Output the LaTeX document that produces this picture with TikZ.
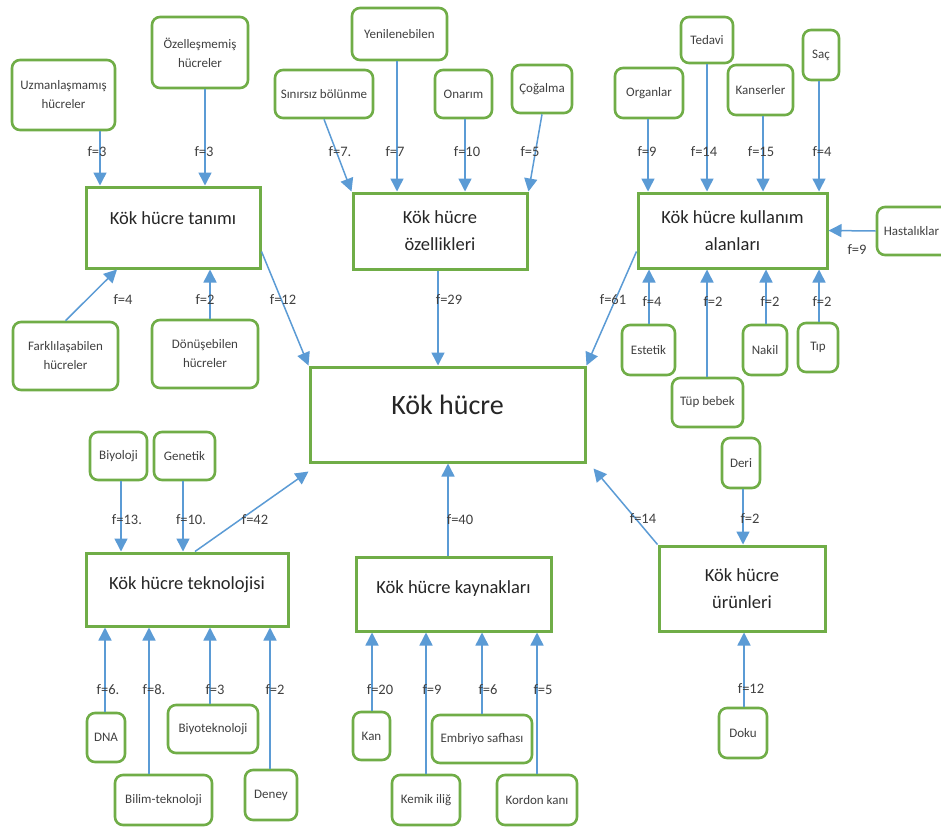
\documentclass[tikz,border=0pt]{standalone}
\usepackage{fontspec}
\setmainfont{Carlito}
\usepackage{tikz}
\usetikzlibrary{arrows.meta}
\usepackage{xcolor}
\definecolor{boxgreen}{RGB}{112,173,71}
\definecolor{linkblue}{RGB}{91,155,213}
\definecolor{txtgray}{RGB}{64,64,64}

\begin{document}
\begin{tikzpicture}[x=1pt,y=-1pt,
leaf/.style={draw=boxgreen,line width=2.6pt,rounded corners=8pt,fill=white,inner sep=1pt,align=center,text=txtgray,font=\fontsize{13}{19}\selectfont},
topic/.style={draw=boxgreen,line width=3pt,fill=white,inner sep=2pt,align=center,text=black!85,font=\fontsize{18.5}{27}\selectfont},
link/.style={draw=linkblue,line width=1.5pt,-{Triangle[width=13pt,length=13pt]}},
flab/.style={inner sep=0pt,text=txtgray,font=\fontsize{14.5}{16}\selectfont}]

\useasboundingbox[fill=white] (0,0) rectangle (941,827);
\clip (0,0) rectangle (941,827);

% center
\node[topic,minimum width=275,minimum height=95,text depth=20pt,font=\fontsize{28}{32}\selectfont] (merk) at (447.5,414.5) {Kök hücre};

% topics
\node[topic,minimum width=174,minimum height=81,text depth=18pt] (tanim) at (173,227.5) {Kök hücre tanımı};
\node[topic,minimum width=174,minimum height=76] (ozel) at (440,231) {Kök hücre\\özellikleri};
\node[topic,minimum width=189,minimum height=75] (kull) at (732.5,230.5) {Kök hücre kullanım\\alanları};
\node[topic,minimum width=202,minimum height=73,text depth=13pt] (tekn) at (187,589.5) {Kök hücre teknolojisi};
\node[topic,minimum width=195,minimum height=74,text depth=14pt] (kayn) at (453.5,594) {Kök hücre kaynakları};
\node[topic,minimum width=166,minimum height=85] (urun) at (742,588.5) {Kök hücre\\ürünleri};

% leaves, top left
\node[leaf,minimum width=103,minimum height=70] (uzm) at (63.5,95) {Uzmanlaşmamış\\hücreler};
\node[leaf,minimum width=96,minimum height=71] (oze) at (200,52.5) {Özelleşmemiş\\hücreler};
\node[leaf,minimum width=105,minimum height=68] (fark) at (65.5,356) {Farklılaşabilen\\hücreler};
\node[leaf,minimum width=106,minimum height=68] (donu) at (205,354) {Dönüşebilen\\hücreler};

% leaves, top middle
\node[leaf,minimum width=98,minimum height=48] (sinir) at (324,94) {Sınırsız bölünme};
\node[leaf,minimum width=95,minimum height=52] (yeni) at (399.5,34) {Yenilenebilen};
\node[leaf,minimum width=57,minimum height=48] (onar) at (463.5,94) {Onarım};
\node[leaf,minimum width=60,minimum height=48] (coga) at (542,89) {Çoğalma};

% leaves, top right
\node[leaf,minimum width=68,minimum height=50] (organ) at (649,93) {Organlar};
\node[leaf,minimum width=52,minimum height=46] (teda) at (707,40) {Tedavi};
\node[leaf,minimum width=65,minimum height=50] (kans) at (760.5,90) {Kanserler};
\node[leaf,minimum width=36,minimum height=50] (sac) at (821,55) {Saç};
\node[leaf,minimum width=83,minimum height=48] (hast) at (918.5,231) {Hastalıklar\hspace*{14pt}};
\node[leaf,minimum width=53,minimum height=50] (estet) at (648.5,350) {Estetik};
\node[leaf,minimum width=71,minimum height=49] (tup) at (707.5,402.5) {Tüp bebek};
\node[leaf,minimum width=44,minimum height=50] (nakil) at (765,350) {Nakil};
\node[leaf,minimum width=40,minimum height=49] (tip) at (818,347.5) {Tıp};

% leaves, bottom left
\node[leaf,minimum width=57,minimum height=48] (biyo) at (118.5,456) {Biyoloji};
\node[leaf,minimum width=61,minimum height=48] (gene) at (184.5,456) {Genetik};
\node[leaf,minimum width=38,minimum height=49] (dna) at (106,737.5) {DNA};
\node[leaf,minimum width=97,minimum height=50] (bilim) at (163.5,800) {Bilim-teknoloji};
\node[leaf,minimum width=90,minimum height=48] (biyot) at (213,729) {Biyoteknoloji};
\node[leaf,minimum width=52,minimum height=50] (deney) at (271,795) {Deney};

% leaves, bottom middle
\node[leaf,minimum width=37,minimum height=48] (kan) at (371.5,736) {Kan};
\node[leaf,minimum width=68,minimum height=50] (kemik) at (426,800) {Kemik iliğ};
\node[leaf,minimum width=100,minimum height=48] (embr) at (482,739) {Embriyo safhası};
\node[leaf,minimum width=80,minimum height=50] (kord) at (537,800) {Kordon kanı};

% leaves, bottom right
\node[leaf,minimum width=38,minimum height=50] (deri) at (741,463) {Deri};
\node[leaf,minimum width=48,minimum height=50] (doku) at (743,733) {Doku};

% straight down
\foreach \x/\a/\b/\lx/\ly/\v [count=\i] in {100/uzm/tanim/97/152/3, 205/oze/tanim/204/152/3, 397/yeni/ozel/395/152/7, 465/onar/ozel/467/152/10, 648/organ/kull/647/152/9, 707/teda/kull/704/152/14, 763/kans/kull/761/152/15, 819/sac/kull/822/152/4, 121/biyo/tekn/127/520/13., 183/gene/tekn/191/520/10., 743/deri/urun/750/519/2, 438/ozel/merk/449/300/29}
{
\draw[link] (\x,0 |- \a.south) -- (\x,0 |- \b.north);
\node[flab] (dn\i) at (\lx,\ly) {f=\v};
}

% straight up
\foreach \x/\a/\b/\lx/\ly/\v [count=\i] in {210/donu/tanim/205/300/2, 649/estet/kull/652/302/4, 707/tup/kull/713/302/2, 766/nakil/kull/770/302/2, 819/tip/kull/822/302/2, 105/dna/tekn/108/690/6., 149/bilim/tekn/154/690/8., 210/biyot/tekn/215/690/3, 270/deney/tekn/275/690/2, 372/kan/kayn/380/690/20, 426/kemik/kayn/432/690/9, 482/embr/kayn/488/690/6, 537/kord/kayn/543/690/5, 744/doku/urun/751/689/12, 448/kayn/merk/460/520/40}
{
\draw[link] (\x,0 |- \a.north) -- (\x,0 |- \b.south);
\node[flab] (up\i) at (\lx,\ly) {f=\v};
}

% slanted ones
\draw[link] (fark.north) -- (117,0 |- tanim.south);
\node[flab] (d1) at (123,300) {f=4};
\draw[link] (sinir.south) -- (ozel.north west);
\node[flab] (d2) at (340,152) {f=7.};
\draw[link] (coga.south) -- (ozel.north east);
\node[flab] (d3) at (530,152) {f=5};
\draw[link] (hast.west) -- (kull.east);
\node[flab] (d4) at (857,250) {f=9};
\draw[link] ([yshift=18pt]tanim.south east) -- (merk.north west);
\node[flab] (d5) at (283,300) {f=12};
\draw[link] ([yshift=18pt]kull.south west) -- (merk.north east);
\node[flab] (d6) at (613,300) {f=61};
\draw[link] (195,0 |- tekn.north) -- ([yshift=-8pt]merk.south west);
\node[flab] (d7) at (255,520) {f=42};
\draw[link] (urun.north west) -- ([xshift=7pt,yshift=-5pt]merk.south east);
\node[flab] (d8) at (643,519) {f=14};

\end{tikzpicture}
\end{document}
